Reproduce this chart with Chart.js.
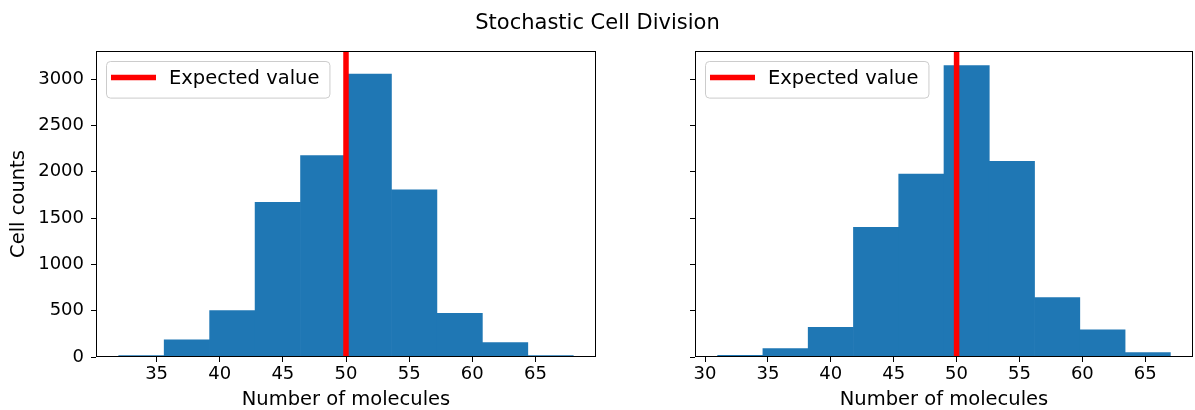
<!DOCTYPE html>
<html>
<head>
<meta charset="utf-8">
<script src="https://cdn.jsdelivr.net/npm/chart.js@4.4.0/dist/chart.umd.min.js"></script>
<style>
  body { margin: 0; background: #fff; }
  #wrap { position: relative; width: 1195px; height: 410px; }
  canvas { position: absolute; top: 0; }
  #title { position: absolute; left: 0; top: 10px; width: 1195px; text-align: center;
           font-family: "DejaVu Sans", sans-serif; font-size: 21px; color: #000; }
</style>
</head>
<body>
<div id="wrap">
  <canvas id="leftChart" width="600" height="410" style="left:0"></canvas>
  <canvas id="rightChart" width="595" height="410" style="left:600px"></canvas>
  <div id="title">Stochastic Cell Division</div>
</div>
<script>
// histogram bins (edges) and counts
const leftEdges = [32, 35.6, 39.2, 42.8, 46.4, 50, 53.6, 57.2, 60.8, 64.4, 68];
const leftCounts = [15, 184, 502, 1669, 2173, 3053, 1805, 472, 156, 15];
const rightEdges = [31, 34.6, 38.2, 41.8, 45.4, 49, 52.6, 56.2, 59.8, 63.4, 67];
const rightCounts = [18, 91, 321, 1399, 1975, 3146, 2112, 642, 292, 48];

const expectedValue = 50;
const legendLabel = 'Expected value';

const leftRange = [30.2, 69.8];
const rightRange = [29.2, 68.8];
const yMax = 3303;

const leftXTicks = [35, 40, 45, 50, 55, 60, 65];
const rightXTicks = [30, 35, 40, 45, 50, 55, 60, 65];
const yTicks = [0, 500, 1000, 1500, 2000, 2500, 3000];

const FONT = '"DejaVu Sans", sans-serif';
const BAR_COLOR = '#1f77b4';

// draws the box around the axes and the legend inside it
const framePlugin = {
  id: 'frame',
  afterDraw(chart) {
    const { ctx, chartArea: a } = chart;
    ctx.save();
    ctx.strokeStyle = '#000';
    ctx.lineWidth = 1;
    ctx.strokeRect(Math.round(a.left) + 0.5, Math.round(a.top) + 0.5,
                   Math.round(a.right - a.left) - 1, Math.round(a.bottom - a.top) - 1);

    // legend
    const fs = 19.5;
    ctx.font = fs + 'px ' + FONT;
    const tw = ctx.measureText(legendLabel).width;
    const bx = a.left + 10, by = a.top + 10;
    const bw = 5 + 45 + 13 + tw + 10, bh = 36.6;
    ctx.beginPath();
    ctx.roundRect(bx + 0.5, by + 0.5, bw, bh, 4);
    ctx.fillStyle = 'rgba(255,255,255,0.8)';
    ctx.fill();
    ctx.strokeStyle = '#cccccc';
    ctx.stroke();

    ctx.beginPath();
    ctx.moveTo(bx + 5, by + 16.5);
    ctx.lineTo(bx + 50, by + 16.5);
    ctx.strokeStyle = 'red';
    ctx.lineWidth = 5.5;
    ctx.stroke();

    ctx.fillStyle = '#000';
    ctx.textBaseline = 'middle';
    ctx.fillText(legendLabel, bx + 63, by + 17.5);
    ctx.restore();
  }
};

function makeChart(id, edges, counts, range, xTicks, showY, yWidth, rightPad) {
  const bars = counts.map((c, i) => ({ x: (edges[i] + edges[i + 1]) / 2, y: c }));
  return new Chart(document.getElementById(id), {
    type: 'bar',
    data: {
      datasets: [
        {
          type: 'line',
          data: [{ x: expectedValue, y: 0 }, { x: expectedValue, y: yMax }],
          borderColor: 'red',
          borderWidth: 5.5,
          pointRadius: 0,
          order: 0
        },
        {
          type: 'bar',
          data: bars,
          backgroundColor: BAR_COLOR,
          borderWidth: 0,
          barPercentage: 1,
          categoryPercentage: 1,
          order: 1
        }
      ]
    },
    options: {
      responsive: false,
      animation: false,
      layout: { padding: { top: 51, right: rightPad, bottom: 0, left: 0 } },
      plugins: { legend: { display: false }, tooltip: { enabled: false } },
      scales: {
        x: {
          type: 'linear',
          offset: false,
          min: range[0],
          max: range[1],
          afterBuildTicks: s => { s.ticks = xTicks.map(v => ({ value: v })); },
          afterFit: s => { s.height = 53; },
          grid: { display: true, offset: false, drawOnChartArea: false, drawTicks: true, tickLength: 5, color: '#000' },
          border: { display: false },
          ticks: {
            font: { family: FONT, size: 18 }, color: '#000', padding: 2,
            maxRotation: 0, autoSkip: false, callback: v => String(v)
          },
          title: {
            display: true, text: 'Number of molecules', color: '#000',
            font: { family: FONT, size: 19.5, lineHeight: 1 }, padding: { top: 0, bottom: 0 }
          }
        },
        y: {
          min: 0,
          max: yMax,
          afterBuildTicks: s => { s.ticks = yTicks.map(v => ({ value: v })); },
          afterFit: s => { s.width = yWidth; },
          grid: { display: true, drawOnChartArea: false, drawTicks: true, tickLength: 5, color: '#000' },
          border: { display: false },
          ticks: {
            display: showY,
            font: { family: FONT, size: 18 }, color: '#000', padding: 7,
            callback: v => String(v)
          },
          title: {
            display: showY, text: 'Cell counts', color: '#000',
            font: { family: FONT, size: 19.5, lineHeight: 1 }, padding: { top: 9, bottom: 0 }
          }
        }
      }
    },
    plugins: [framePlugin]
  });
}

makeChart('leftChart', leftEdges, leftCounts, leftRange, leftXTicks, true, 96, 4);
makeChart('rightChart', rightEdges, rightCounts, rightRange, rightXTicks, false, 95, 2);
</script>
</body>
</html>
